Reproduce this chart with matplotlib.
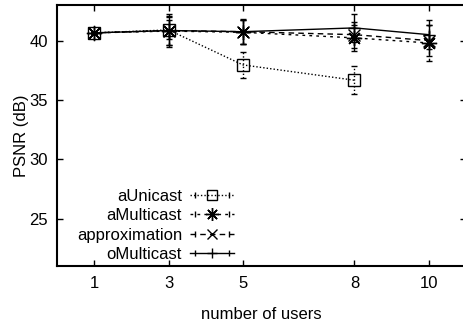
import numpy as np
import matplotlib
matplotlib.use("Agg")
import matplotlib.pyplot as plt
from matplotlib.lines import Line2D
from matplotlib.legend_handler import HandlerTuple, HandlerLine2D

plt.rcParams['font.family'] = ['Liberation Sans', 'DejaVu Sans']
plt.rcParams['font.size'] = 12

users = [1, 3, 5, 8, 10]
x_ticks = [1, 3, 5, 8, 10]
y_ticks = [25, 30, 35, 40]

series_names = ["aUnicast", "aMulticast", "approximation", "oMulticast"]
aUnicast = [40.65, 40.9, 37.95, 36.66]
aUnicast_err = [0.1, 0.8, 1.1, 1.2]
aMulticast = [40.65, 40.8, 40.7, 40.23, 39.8]
aMulticast_err = [0.1, 1.2, 1.0, 1.1, 1.5]
approximation = [40.65, 40.85, 40.75, 40.5, 40.0]
approximation_err = [0.1, 1.2, 1.0, 1.1, 1.3]
oMulticast = [40.65, 40.85, 40.75, 41.07, 40.5]
oMulticast_err = [0.1, 1.4, 1.05, 1.15, 1.2]

fig = plt.figure(figsize=(4.64, 3.25), dpi=100)
ax = fig.add_axes([57/464, 1-266/325, (466-57)/464, (266-5)/325])

styles = [
    dict(vals=aUnicast, err=aUnicast_err, marker='s', ms=8, ls=(0, (1, 1.5)), mfc='none'),
    dict(vals=aMulticast, err=aMulticast_err, marker=(8, 2, 0), ms=11, ls=(0, (2, 3)), mfc='none'),
    dict(vals=approximation, err=approximation_err, marker='x', ms=8, ls=(0, (4, 3)), mfc='none'),
    dict(vals=oMulticast, err=oMulticast_err, marker='+', ms=9, ls='-', mfc='none'),
]

handles = []
hmap = {}
for name, st in zip(series_names, styles):
    xs = users[:len(st['vals'])]
    eb = ax.errorbar(xs, st['vals'], yerr=st['err'], color='black', lw=1.0,
                     marker=st['marker'], ms=st['ms'], mfc=st['mfc'], mec='black',
                     mew=1.0, capsize=2, elinewidth=1.0, capthick=1.0)
    eb[0].set_linestyle(st['ls'])
    for lc in eb[2]:
        lc.set_linestyle(st['ls'])
    main = Line2D([], [], color='black', lw=1.0, ls=st['ls'], marker=st['marker'],
                  ms=st['ms'] * 0.85, mfc='none', mec='black', mew=1.0)
    caps = Line2D([], [], color='black', lw=0, marker='|', ms=5, mew=1.0)
    hmap[main] = HandlerLine2D(numpoints=1)
    hmap[caps] = HandlerLine2D(numpoints=2)
    handles.append((main, caps))

hmap[tuple] = HandlerTuple(ndivide=1)
leg = ax.legend(handles, series_names, handler_map=hmap,
                loc='lower left', bbox_to_anchor=(0.02, -0.03), frameon=False, markerfirst=False,
                handlelength=2.6, handletextpad=0.5, labelspacing=0.27, borderpad=0.2)

ax.set_xlim(0, 11)
ax.set_ylim(21, 43)
ax.set_xticks(x_ticks)
ax.set_yticks(y_ticks)
ax.tick_params(direction='in', length=4, width=1.0, top=True, right=True, labelsize=12, pad=6.5)
ax.tick_params(axis='x', pad=7)
for s in ['left', 'bottom', 'top']:
    ax.spines[s].set_linewidth(1.5)
ax.spines['right'].set_visible(False)
ax.set_xlabel('number of users', labelpad=12)
ax.set_ylabel('PSNR (dB)', labelpad=0.5)

fig.savefig('out.png', dpi=100)
